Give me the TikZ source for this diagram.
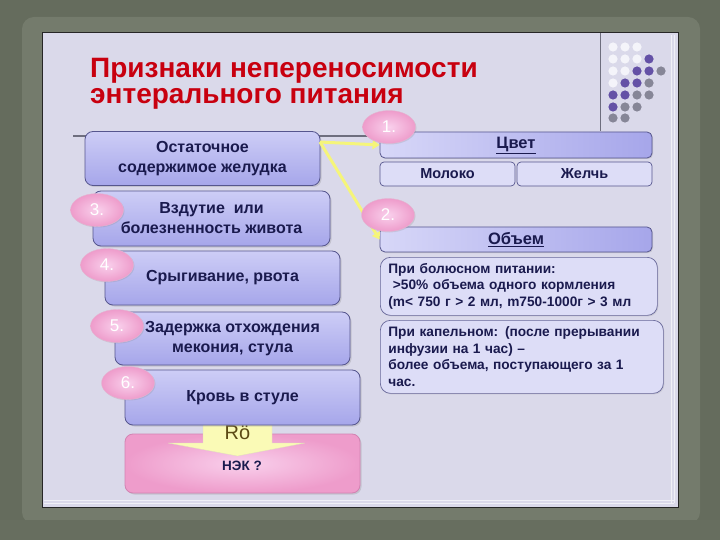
\documentclass[tikz,border=0pt]{standalone}
\usepackage{fontspec}
\setmainfont{Liberation Sans}
\usetikzlibrary{shadows,arrows.meta,shapes.geometric}
\definecolor{bgout}{HTML}{656C5D}
\definecolor{bgmat}{HTML}{747B6C}
\definecolor{slidebg}{HTML}{DAD9EA}
\definecolor{navy}{HTML}{1A1A4E}
\definecolor{boxtop}{HTML}{CDCDF6}
\definecolor{boxbot}{HTML}{A6A6EA}
\definecolor{boxedge}{HTML}{56568E}
\definecolor{subfill}{HTML}{DDDDF7}
\definecolor{pinkc}{HTML}{F9D0EC}
\definecolor{pinke}{HTML}{EE9CCB}
\definecolor{pinkedge}{HTML}{D283B2}
\definecolor{yel}{HTML}{F5F57A}
\definecolor{titlered}{HTML}{C8000F}
\definecolor{rocol}{HTML}{5C4A14}
\definecolor{dotw}{HTML}{F4F4FA}
\definecolor{dotp}{HTML}{6451A6}
\definecolor{dotg}{HTML}{868697}
\definecolor{linec}{HTML}{6E6E7E}
\tikzset{
  lbox/.style={draw=boxedge, line width=0.8pt, rounded corners=8pt, top color=boxtop, bottom color=boxbot,
    minimum width=235pt, minimum height=54pt, align=center, text=navy,
    font=\fontsize{16}{20}\selectfont\bfseries,
    drop shadow={shadow xshift=1.5pt, shadow yshift=-1.5pt, opacity=0.25}},
  rhead/.style={draw=boxedge, line width=0.8pt, rounded corners=5pt, left color=boxtop!80!white, right color=boxbot,
    minimum width=272pt, minimum height=26pt, text=navy, font=\fontsize{16.5}{18}\selectfont\bfseries,
    drop shadow={shadow xshift=1pt, shadow yshift=-1pt, opacity=0.25}},
  rsub/.style={draw=boxedge, line width=0.7pt, rounded corners=4pt, fill=subfill,
    minimum width=135pt, minimum height=24pt, text=navy, font=\fontsize{14.5}{16}\selectfont\bfseries},
  rtext/.style={draw=boxedge!90, line width=0.7pt, rounded corners=10pt, fill=subfill, text=navy,
    align=left, anchor=north west, inner xsep=8pt, font=\fontsize{13.7}{16.5}\selectfont\bfseries,
    drop shadow={shadow xshift=1pt, shadow yshift=-1pt, opacity=0.2}},
  badge/.style={ellipse, inner color=pinkc, outer color=pinke, draw=pinkedge!60, line width=0.4pt,
    minimum width=53pt, minimum height=33pt, text=white, font=\fontsize{17}{19}\selectfont,
    drop shadow={shadow xshift=1pt, shadow yshift=-1pt, opacity=0.2}},
  yarrow/.style={draw=yel, line width=3pt, -{Triangle[length=7pt,width=9pt]}},
  dotW/.style={fill=dotw}, dotP/.style={fill=dotp}, dotG/.style={fill=dotg}
}
\begin{document}
\begin{tikzpicture}[x=1pt,y=-1pt]
\useasboundingbox (0,0) rectangle (720,540);
% background
\fill[bgout] (0,0) rectangle (720,540);
\fill[bgmat, rounded corners=12pt] (22,17) rectangle (700,524);
\fill[bgout!85!bgmat] (0,520) rectangle (720,540);
% slide
\fill[slidebg] (42,33) rectangle (678,507);
\draw[white!60!slidebg, line width=1pt] (44,500) -- (674,500) (44,503) -- (674,503) (671,35) -- (671,503) (674,35) -- (674,503);
\draw[black!85, line width=1pt] (42,33) rectangle (678,507);
% decorative lines
\draw[linec, line width=1.3pt] (73,136) -- (600,136);
\draw[linec, line width=0.8pt] (600,33) -- (600,131);
% dots
\foreach \x/\y/\s in {613/47/W,625/47/W,637/47/W,
  613/59/W,625/59/W,637/59/W,649/59/P,
  613/71/W,625/71/W,637/71/P,649/71/P,661/71/G,
  613/83/W,625/83/P,637/83/P,649/83/G,
  613/95/P,625/95/P,637/95/G,649/95/G,
  613/107/P,625/107/G,637/107/G,
  613/118/G,625/118/G}
  \fill[dot\s] (\x,\y) circle (4.6pt);
% title
\node[anchor=base west, inner sep=0, text=titlered, align=left,
  font=\fontsize{28}{26}\selectfont\bfseries] (title) at (90,104)
  {Признаки непереносимости\\энтерального питания};
% NEK box and Rö arrow
\node[draw=pinkedge, line width=0.8pt, rounded corners=8pt, inner color=pinkc, outer color=pinke,
  minimum width=235pt, minimum height=59pt,
  drop shadow={shadow xshift=1.5pt, shadow yshift=-1.5pt, opacity=0.25}] (nek) at (242.5,463.5) {};
\path[fill=yel!55!white, draw=yel!70!black!40, line width=0.3pt]
  (203,418) -- (272,418) -- (272,443) -- (305,443) -- (237.5,456) -- (168,443) -- (203,443) -- cycle;
\node[text=rocol, font=\fontsize{20}{22}\selectfont] (ro) at (237.5,433) {Rö};
\node[text=navy, font=\fontsize{13.5}{15}\selectfont\bfseries] (nektxt) at (242,466) {НЭК ?};
% left boxes
\node[lbox] (b1) at (202.5,158.5) {Остаточное\\содержимое желудка};
\node[lbox, minimum width=237pt, minimum height=55pt] (b3) at (211.5,218.5) {Вздутие \ или\\болезненность живота};
\node[lbox] (b4) at (222.5,278) {Срыгивание, рвота};
\node[lbox, minimum height=53pt] (b5) at (232.5,338.5) {Задержка отхождения\\мекония, стула};
\node[lbox, minimum height=55pt] (b6) at (242.5,397.5) {Кровь в стуле};
% right boxes
\node[rhead] (cvet) at (516,145) {\underline{Цвет}};
\node[rsub] (milk) at (447.5,174) {Молоко};
\node[rsub] (bile) at (584.5,174) {Желчь};
\node[rhead, minimum height=25pt] (vol) at (516,239.5) {\underline{Объем}};
\node[rtext, text width=261pt, minimum height=58pt, inner ysep=5pt] (bolus) at (380,257)
  {При болюсном питании:\\ \ >50\% объема одного кормления\\(m< 750 г > 2 мл, m750-1000г > 3 мл};
\node[rtext, text width=267pt, minimum height=73pt, inner ysep=6pt] (drip) at (380,320)
  {При капельном: (после прерывании\\инфузии на 1 час) –\\более объема, поступающего за 1\\час.};
% yellow connectors
\coordinate (src) at (320,142);
\draw[yarrow] (src) -- (cvet.west);
\draw[yarrow] (src) -- (vol.west);
% badges
\node[badge] (n1) at (389,127) {1.};
\node[badge] (n2) at (388,215) {2.};
\node[badge] (n3) at (97,210) {3.};
\node[badge] (n4) at (107,265) {4.};
\node[badge] (n5) at (117,326) {5.};
\node[badge] (n6) at (128,383) {6.};
\end{tikzpicture}
\end{document}
